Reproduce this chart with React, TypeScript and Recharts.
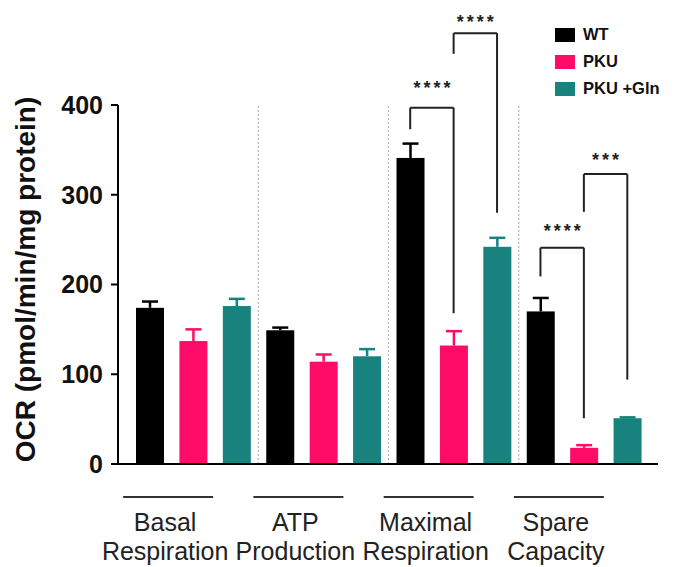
import { BarChart, Bar, Cell, XAxis, YAxis, ReferenceLine, Legend } from 'recharts';

const groupLabels = [
  ['Basal', 'Respiration'],
  ['ATP', 'Production'],
  ['Maximal', 'Respiration'],
  ['Spare', 'Capacity'],
];
const seriesNames = ['WT', 'PKU', 'PKU +Gln'];
const seriesColors = ['#000000', '#fe0c68', '#17827e'];

const wtValues = [174, 149, 341, 170];
const pkuValues = [137, 114, 132, 18];
const glnValues = [176, 120, 242, 51];
const wtErrors = [7, 3, 16, 15];
const pkuErrors = [13, 8, 16, 3];
const glnErrors = [8, 8, 10, 1];

const yTicks = [0, 100, 200, 300, 400];

// significance brackets (slot index = group * 3 + series), heights in OCR units
const brackets = [
  { from: 6, to: 7, top: 397, leftEnd: 373, rightEnd: 168, starY: 423, stars: '****' },
  { from: 7, to: 8, top: 480, leftEnd: 457, rightEnd: 280, starY: 497, stars: '****' },
  { from: 9, to: 10, top: 241, leftEnd: 209, rightEnd: 51, starY: 264, stars: '****' },
  { from: 10, to: 11, top: 323, leftEnd: 281, rightEnd: 94, starY: 343, stars: '***' },
];

const values = [wtValues, pkuValues, glnValues];
const errors = [wtErrors, pkuErrors, glnErrors];

const rows = groupLabels.flatMap((_, gi) =>
  seriesNames.map((_, si) => ({
    key: `g${gi}s${si}`,
    group: gi,
    series: si,
    value: values[si][gi],
    err: errors[si][gi],
  }))
);
const slotKey = (i: number) => rows[i].key;

const FONT = '"Liberation Sans", Arial, Helvetica, sans-serif';

const BarWithError = (props: any) => {
  const { x, y, width, height, payload, fill } = props;
  const cx = x + width / 2;
  const errPx = payload.value ? (payload.err * height) / payload.value : 0;
  return (
    <g>
      <rect x={x} y={y} width={width} height={height} fill={fill} />
      <line x1={cx} x2={cx} y1={y} y2={y - errPx} stroke={fill} strokeWidth={2.5} />
      <line x1={cx - 8} x2={cx + 8} y1={y - errPx} y2={y - errPx} stroke={fill} strokeWidth={2.5} />
    </g>
  );
};

const GroupTick = (props: any) => {
  const { x, y, index } = props;
  if (index % 3 !== 1) return null;
  const lines = groupLabels[Math.floor(index / 3)];
  const cx = x - 28;
  return (
    <g>
      <line x1={cx - 42} x2={cx + 48} y1={y + 33} y2={y + 33} stroke="#333" strokeWidth={2} />
      <text x={cx} y={y + 67} textAnchor="middle" fontSize={25} fill="#222" fontFamily={FONT}>
        {lines[0]}
      </text>
      <text x={cx} y={y + 96} textAnchor="middle" fontSize={25} fill="#222" fontFamily={FONT}>
        {lines[1]}
      </text>
    </g>
  );
};

const YLabel = (props: any) => {
  const { viewBox } = props;
  const cy = viewBox.y + viewBox.height / 2 - 5;
  return (
    <text
      x={35}
      y={cy}
      transform={`rotate(-90, 35, ${cy})`}
      textAnchor="middle"
      fontSize={28}
      fontWeight="bold"
      fill="#111"
      fontFamily={FONT}
    >
      OCR (pmol/min/mg protein)
    </text>
  );
};

const StarLabel = (props: any) => {
  const { viewBox, value } = props;
  return (
    <text
      x={viewBox.x + viewBox.width / 2 + 1.5}
      y={viewBox.y + 10}
      textAnchor="middle"
      fontSize={18}
      fontWeight="bold"
      letterSpacing={3}
      fill="#222"
      fontFamily={FONT}
    >
      {value}
    </text>
  );
};

const LegendBox = () => (
  <div style={{ fontFamily: FONT }}>
    {seriesNames.map((name, i) => (
      <div key={name} style={{ display: 'flex', alignItems: 'center', height: 27 }}>
        <div style={{ width: 20, height: 14, background: seriesColors[i], marginRight: 8 }} />
        <span style={{ fontSize: 16.5, fontWeight: 'bold', color: '#111', whiteSpace: 'pre' }}>{name}</span>
      </div>
    ))}
  </div>
);

export default function App() {
  return (
    <div style={{ position: 'absolute', left: 0, top: 0, width: 675, height: 567, background: '#fff' }}>
      <BarChart
        width={675}
        height={567}
        data={rows}
        margin={{ top: 105, right: 17, bottom: 3, left: 58 }}
        barSize={28}
      >
        <XAxis
          dataKey="key"
          type="category"
          interval={0}
          height={100}
          padding={{ left: 10, right: 9 }}
          tickLine={false}
          tickSize={0}
          tickMargin={0}
          axisLine={{ stroke: '#000', strokeWidth: 2 }}
          tick={<GroupTick />}
        />
        <YAxis
          width={60}
          domain={[0, 400]}
          ticks={yTicks}
          tickSize={7}
          tickMargin={8}
          axisLine={{ stroke: '#000', strokeWidth: 2 }}
          tickLine={{ stroke: '#000', strokeWidth: 2 }}
          tick={{ fontSize: 25, fontWeight: 'bold', fill: '#111', fontFamily: FONT }}
          label={<YLabel />}
        />
        {[3, 6, 9].map((i) => (
          <ReferenceLine
            key={`sep${i}`}
            x={slotKey(i)}
            position="start"
            stroke="#b5b5b5"
            strokeWidth={1.2}
            strokeDasharray="2 2"
          />
        ))}
        <Bar dataKey="value" isAnimationActive={false} shape={<BarWithError />}>
          {rows.map((r) => (
            <Cell key={r.key} fill={seriesColors[r.series]} />
          ))}
        </Bar>
        {brackets.map((b, i) => [
          <ReferenceLine
            key={`bl${i}`}
            ifOverflow="visible"
            stroke="#222"
            strokeWidth={2}
            segment={[{ x: slotKey(b.from), y: b.leftEnd }, { x: slotKey(b.from), y: b.top }]}
          />,
          <ReferenceLine
            key={`bt${i}`}
            ifOverflow="visible"
            stroke="#222"
            strokeWidth={2}
            segment={[{ x: slotKey(b.from), y: b.top }, { x: slotKey(b.to), y: b.top }]}
          />,
          <ReferenceLine
            key={`br${i}`}
            ifOverflow="visible"
            stroke="#222"
            strokeWidth={2}
            segment={[{ x: slotKey(b.to), y: b.top }, { x: slotKey(b.to), y: b.rightEnd }]}
          />,
          <ReferenceLine
            key={`bs${i}`}
            ifOverflow="visible"
            stroke="none"
            segment={[{ x: slotKey(b.from), y: b.starY }, { x: slotKey(b.to), y: b.starY }]}
            label={<StarLabel value={b.stars} />}
          />,
        ])}
        <Legend
          layout="vertical"
          verticalAlign="middle"
          align="center"
          wrapperStyle={{ left: 555, top: 21, width: 120 }}
          content={() => <LegendBox />}
        />
      </BarChart>
    </div>
  );
}
